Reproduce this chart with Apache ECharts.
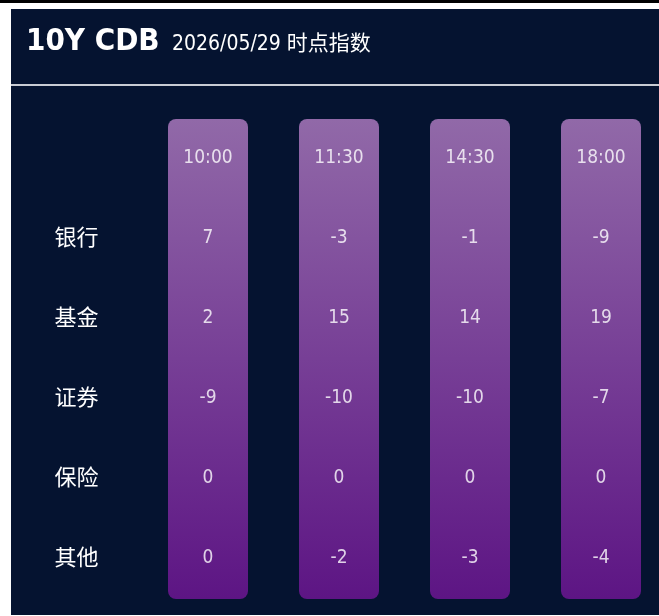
<!DOCTYPE html>
<html>
<head>
<meta charset="utf-8">
<script src="https://cdn.jsdelivr.net/npm/echarts@6/dist/echarts.min.js"></script>
<style>
  html, body { margin: 0; padding: 0; background: #fff; }
  #main { width: 659px; height: 616px; }
</style>
</head>
<body>
<div id="main"></div>
<script>
var FONT = "'DejaVu Sans Condensed', 'Noto Sans CJK SC', sans-serif";

var titleText = '10Y CDB';
var subTitleText = '2026/05/29 时点指数';
var times = ['10:00', '11:30', '14:30', '18:00'];
var rows = ['银行', '基金', '证券', '保险', '其他'];
var bank = [7, -3, -1, -9];
var fund = [2, 15, 14, 19];
var broker = [-9, -10, -10, -7];
var insurance = [0, 0, 0, 0];
var other = [0, -2, -3, -4];

var values = [bank, fund, broker, insurance, other];
var headerRow = '时点';
var yCats = [headerRow].concat(rows);

// one point per cell: [time index, row name, value]
var cells = [];
times.forEach(function (t, i) {
    cells.push({ value: [i, headerRow], label: { formatter: t } });
    values.forEach(function (arr, r) {
        cells.push({ value: [i, rows[r], arr[i]] });
    });
});

var chart = echarts.init(document.getElementById('main'));

var option = {
    backgroundColor: '#ffffff',
    animation: false,
    graphic: [
        { type: 'rect', shape: { x: 0, y: 0, width: 659, height: 3 }, style: { fill: '#000' }, z: -10 },
        { type: 'rect', shape: { x: 11, y: 9, width: 648, height: 606 }, style: { fill: '#051330' }, z: -10 },
        { type: 'line', shape: { x1: 11, y1: 85, x2: 659, y2: 85 }, style: { stroke: '#c9ccd4', lineWidth: 2 }, z: -5 }
    ],
    title: [
        {
            text: titleText,
            left: 26,
            top: 26,
            padding: 0,
            textStyle: { color: '#fff', fontSize: 31, fontWeight: 'bold', fontFamily: FONT }
        },
        {
            text: subTitleText,
            left: 172,
            top: 34,
            padding: 0,
            textStyle: { color: '#fff', fontSize: 21, fontWeight: 'normal', fontFamily: FONT }
        }
    ],
    grid: { left: 142.5, top: 119, width: 524, height: 480, outerBoundsMode: 'none' },
    xAxis: {
        type: 'category',
        data: times,
        show: false
    },
    yAxis: {
        type: 'category',
        data: yCats,
        inverse: true,
        axisLine: { show: false },
        axisTick: { show: false },
        splitLine: { show: false },
        axisLabel: {
            color: '#fff',
            fontSize: 22,
            fontFamily: FONT,
            align: 'center',
            margin: 66,
            formatter: function (v) { return v === headerRow ? '' : v; }
        }
    },
    series: [
        {
            type: 'custom',
            data: times.map(function (t, i) { return [i]; }),
            renderItem: function (params, api) {
                var top = api.coord([api.value(0), headerRow]);
                var bottom = api.coord([api.value(0), rows[rows.length - 1]]);
                var half = api.size([0, 1])[1] / 2;
                var w = 80;
                return {
                    type: 'rect',
                    shape: { x: top[0] - w / 2, y: top[1] - half, width: w, height: bottom[1] - top[1] + half * 2, r: 8 },
                    style: {
                        fill: new echarts.graphic.LinearGradient(0, 0, 0, 1, [
                            { offset: 0, color: '#9169a8' },
                            { offset: 1, color: '#5d1584' }
                        ])
                    }
                };
            },
            clip: false,
            z: 1
        },
        {
            type: 'scatter',
            symbolSize: 0,
            data: cells,
            label: {
                show: true,
                position: 'inside',
                offset: [0, -1],
                color: '#fff',
                fontSize: 19,
                fontFamily: FONT,
                formatter: function (p) { return p.value[2]; }
            },
            z: 5
        }
    ]
};

chart.setOption(option);
</script>
</body>
</html>
